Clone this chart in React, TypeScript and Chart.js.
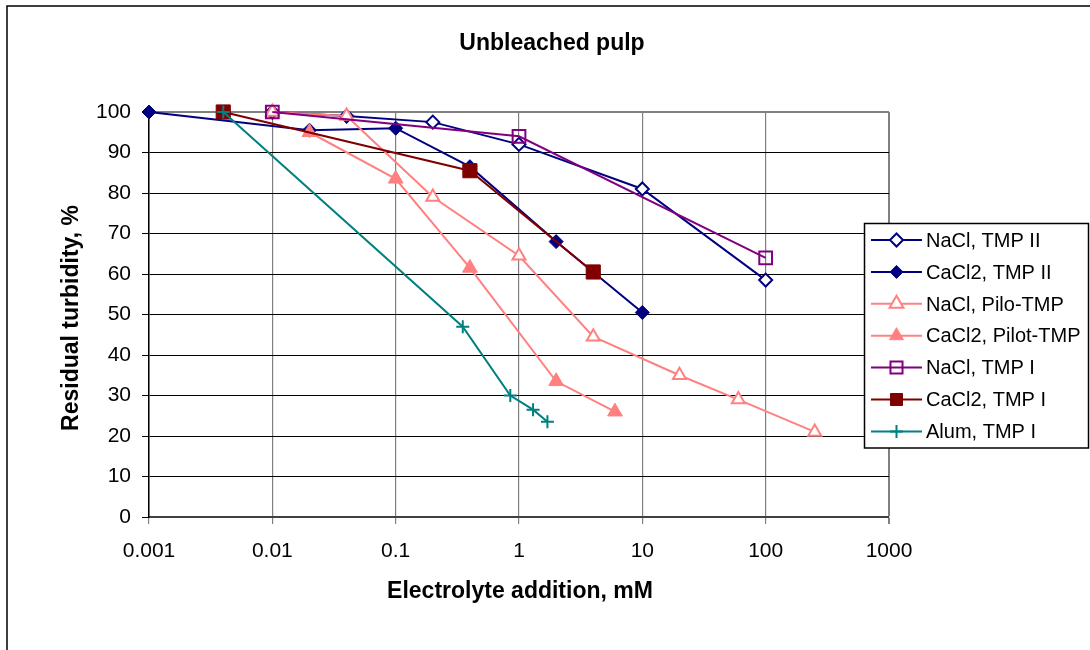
import React, { useEffect, useRef } from 'react';
import { Chart, registerables } from 'chart.js';

Chart.register(...registerables);

// Series names in legend order
const seriesNames = [
  'NaCl, TMP II',
  'CaCl2, TMP II',
  'NaCl, Pilo-TMP',
  'CaCl2, Pilot-TMP',
  'NaCl, TMP I',
  'CaCl2, TMP I',
  'Alum, TMP I',
];

// Electrolyte addition (mM) and residual turbidity (%) per series
const naclTmp2X = [0.01, 0.04, 0.2, 1, 10, 100];
const naclTmp2Y = [100, 99, 97.5, 92, 81, 58.5];

const cacl2Tmp2X = [0.001, 0.02, 0.1, 0.4, 2, 10];
const cacl2Tmp2Y = [100, 95.5, 96, 86.5, 68, 50.5];

const naclPiloX = [0.01, 0.04, 0.2, 1, 4, 20, 60, 250];
const naclPiloY = [100, 99, 79, 64.5, 44.5, 35, 29, 21];

const cacl2PilotX = [0.02, 0.1, 0.4, 2, 6];
const cacl2PilotY = [95, 83.5, 61.5, 33.5, 26];

const naclTmp1X = [0.01, 1, 100];
const naclTmp1Y = [100, 94, 64];

const cacl2Tmp1X = [0.004, 0.4, 4];
const cacl2Tmp1Y = [100, 85.5, 60.5];

const alumX = [0.004, 0.35, 0.85, 1.3, 1.7];
const alumY = [100, 47, 30, 26.5, 23.5];

const seriesX = [naclTmp2X, cacl2Tmp2X, naclPiloX, cacl2PilotX, naclTmp1X, cacl2Tmp1X, alumX];
const seriesY = [naclTmp2Y, cacl2Tmp2Y, naclPiloY, cacl2PilotY, naclTmp1Y, cacl2Tmp1Y, alumY];

// Axis ticks
const xTickValues = [0.001, 0.01, 0.1, 1, 10, 100, 1000];
const xTickLabels = ['0.001', '0.01', '0.1', '1', '10', '100', '1000'];

const titleText = 'Unbleached pulp';
const xTitleText = 'Electrolyte addition, mM';
const yTitleText = 'Residual turbidity, %';

const FONT = "'Liberation Sans', Arial, Helvetica, sans-serif";

type MarkerStyle = {
  color: string;
  shape: 'rectRot' | 'triangle' | 'rect' | 'cross';
  fill: string;
  radius: number;
  borderWidth: number;
};

const markerStyles: MarkerStyle[] = [
  { color: '#000080', shape: 'rectRot', fill: '#ffffff', radius: 6.5, borderWidth: 2 },
  { color: '#000080', shape: 'rectRot', fill: '#000080', radius: 7, borderWidth: 1 },
  { color: '#ff8080', shape: 'triangle', fill: '#ffffff', radius: 7.5, borderWidth: 2 },
  { color: '#ff8080', shape: 'triangle', fill: '#ff8080', radius: 8.5, borderWidth: 1 },
  { color: '#800080', shape: 'rect', fill: 'rgba(0,0,0,0)', radius: 9, borderWidth: 2 },
  { color: '#800000', shape: 'rect', fill: '#800000', radius: 10, borderWidth: 1 },
  { color: '#008080', shape: 'cross', fill: '#008080', radius: 6.5, borderWidth: 2 },
];

function drawMarker(ctx: CanvasRenderingContext2D, m: MarkerStyle, x: number, y: number) {
  const r = m.radius;
  ctx.save();
  ctx.strokeStyle = m.color;
  ctx.fillStyle = m.fill;
  ctx.lineWidth = m.borderWidth;
  ctx.beginPath();
  if (m.shape === 'rectRot') {
    ctx.moveTo(x, y - r);
    ctx.lineTo(x + r, y);
    ctx.lineTo(x, y + r);
    ctx.lineTo(x - r, y);
    ctx.closePath();
    ctx.fill();
    ctx.stroke();
  } else if (m.shape === 'triangle') {
    const h = r * Math.sqrt(3) / 2;
    ctx.moveTo(x, y - r);
    ctx.lineTo(x + h, y + r / 2);
    ctx.lineTo(x - h, y + r / 2);
    ctx.closePath();
    ctx.fill();
    ctx.stroke();
  } else if (m.shape === 'rect') {
    const s = r * Math.SQRT1_2;
    ctx.rect(x - s, y - s, 2 * s, 2 * s);
    ctx.fill();
    ctx.stroke();
  } else {
    ctx.moveTo(x - r, y);
    ctx.lineTo(x + r, y);
    ctx.moveTo(x, y - r);
    ctx.lineTo(x, y + r);
    ctx.stroke();
  }
  ctx.restore();
}

// Titles, frame and the boxed legend drawn on the canvas
const decorPlugin = {
  id: 'decor',
  beforeDraw(chart: Chart) {
    const ctx = chart.ctx;
    ctx.save();
    ctx.fillStyle = '#ffffff';
    ctx.fillRect(0, 0, chart.width, chart.height);
    ctx.strokeStyle = '#000000';
    ctx.lineWidth = 1.5;
    ctx.strokeRect(7, 6, 1200, 800);
    ctx.restore();
  },
  afterDraw(chart: Chart) {
    const ctx = chart.ctx;
    ctx.save();
    ctx.fillStyle = '#000000';
    ctx.font = `bold 23px ${FONT}`;
    ctx.textAlign = 'center';
    ctx.textBaseline = 'alphabetic';
    ctx.fillText(titleText, 552, 49.5);
    ctx.fillText(xTitleText, 520, 598);

    ctx.save();
    ctx.translate(78, 318);
    ctx.rotate(-Math.PI / 2);
    ctx.fillText(yTitleText, 0, 0);
    ctx.restore();

    // Legend box
    ctx.fillStyle = '#ffffff';
    ctx.fillRect(864, 223, 225, 225);
    ctx.strokeStyle = '#000000';
    ctx.lineWidth = 1.5;
    ctx.strokeRect(864.5, 223.5, 224, 224.5);

    ctx.font = `20px ${FONT}`;
    ctx.textAlign = 'left';
    ctx.textBaseline = 'alphabetic';
    seriesNames.forEach((name, i) => {
      const base = 246.7 + i * 31.9;
      const cy = base - 6.7;
      const m = markerStyles[i];
      ctx.strokeStyle = m.color;
      ctx.lineWidth = 2;
      ctx.beginPath();
      ctx.moveTo(871, cy);
      ctx.lineTo(922, cy);
      ctx.stroke();
      drawMarker(ctx, { ...m, radius: m.shape === 'rect' ? 8.5 : m.shape === 'triangle' ? 8 : 6.5 }, 896.5, cy);
      ctx.fillStyle = '#000000';
      ctx.fillText(name, 926, base);
    });
    ctx.restore();
  },
};

export default function App() {
  const canvasRef = useRef<HTMLCanvasElement | null>(null);

  useEffect(() => {
    const canvas = canvasRef.current;
    if (!canvas) return;

    const datasets = seriesNames.map((name, i) => {
      const m = markerStyles[i];
      return {
        label: name,
        data: seriesX[i].map((x, j) => ({ x, y: seriesY[i][j] })),
        showLine: true,
        borderColor: m.color,
        backgroundColor: m.color,
        borderWidth: 2,
        pointStyle: m.shape,
        pointRadius: m.radius,
        pointHoverRadius: m.radius,
        pointBackgroundColor: m.fill,
        pointBorderColor: m.color,
        pointBorderWidth: m.borderWidth,
        clip: false as const,
        order: seriesNames.length - i,
        tension: 0,
      };
    });

    const chart = new Chart(canvas, {
      type: 'scatter',
      data: { datasets },
      plugins: [decorPlugin],
      options: {
        animation: false,
        responsive: false,
        devicePixelRatio: 1,
        events: [],
        layout: { padding: { top: 112, right: 201, bottom: 0, left: 0 } },
        plugins: {
          legend: { display: false },
          title: { display: false },
          tooltip: { enabled: false },
        },
        scales: {
          x: {
            type: 'logarithmic',
            position: 'bottom',
            min: 0.001,
            max: 1000,
            afterBuildTicks: (scale: any) => {
              scale.ticks = xTickValues.map((v) => ({ value: v }));
            },
            afterFit: (scale: any) => {
              scale.height = 133;
            },
            ticks: {
              autoSkip: false,
              maxRotation: 0,
              minRotation: 0,
              padding: 15,
              color: '#000000',
              font: { family: FONT, size: 21 },
              callback: (_v: any, i: number) => xTickLabels[i],
            },
            grid: {
              color: '#808080',
              lineWidth: (c: any) => (c.tick && c.tick.value === 1000 ? 2 : 1.2),
              tickLength: 7,
              tickColor: '#808080',
            },
            border: { color: '#404040', width: 2 },
          },
          y: {
            type: 'linear',
            min: 0,
            max: 100,
            afterFit: (scale: any) => {
              scale.width = 149;
            },
            ticks: {
              stepSize: 10,
              padding: 11,
              color: '#000000',
              font: { family: FONT, size: 21 },
            },
            grid: {
              color: (c: any) => (c.tick && c.tick.value === 100 ? '#808080' : '#000000'),
              lineWidth: (c: any) => (c.tick && c.tick.value === 100 ? 2 : 1),
              tickLength: 7,
              tickColor: '#000000',
            },
            border: { color: '#000000', width: 1.5 },
          },
        },
      },
    } as any);

    return () => {
      chart.destroy();
    };
  }, []);

  return (
    <div style={{ position: 'absolute', left: 0, top: 0, width: 1090, height: 650, background: '#fff' }}>
      <canvas ref={canvasRef} width={1090} height={650} style={{ display: 'block' }} />
    </div>
  );
}
